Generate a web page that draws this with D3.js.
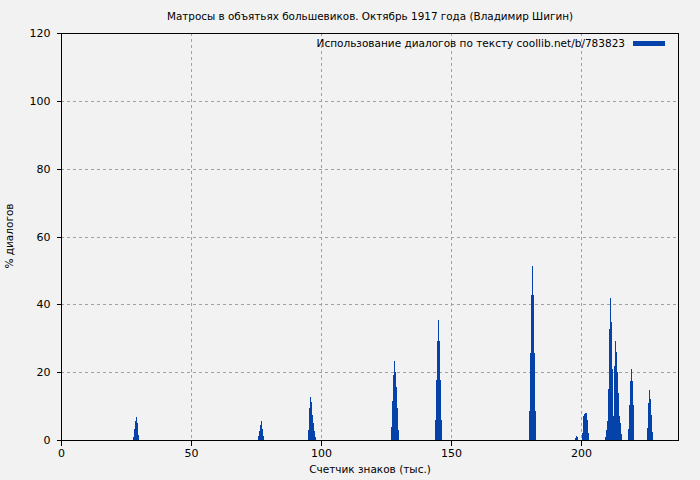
<!DOCTYPE html>
<html><head><meta charset="utf-8">
<script src="https://cdn.jsdelivr.net/npm/d3@7"></script>
<style>
html,body{margin:0;padding:0;background:#f2f2f2;}
svg{display:block;font-family:"DejaVu Sans",sans-serif;}
</style></head>
<body>
<svg id="c" width="700" height="480"></svg>
<script>
const title = "Матросы в объятьях большевиков. Октябрь 1917 года (Владимир Шигин)";
const legendLabel = "Использование диалогов по тексту coollib.net/b/783823";
const xLabel = "Счетчик знаков (тыс.)";
const yLabel = "% диалогов";
const xTicks = [0, 50, 100, 150, 200];
const yTicks = [0, 20, 40, 60, 80, 100, 120];
const barStep = 0.385;
// position (thousands of chars) of each bar
const positions = [
  27.69, 28.08, 28.46, 28.85, 29.23, 29.62,
  75.77, 76.15, 76.54, 76.92, 77.31, 77.69,
  95.00, 95.38, 95.77, 96.15, 96.54, 96.92, 97.31, 97.69,
  126.92, 127.31, 127.69, 128.08, 128.46, 128.85, 129.23, 129.62,
  143.85, 144.23, 144.62, 145.00, 145.38, 145.77, 146.15,
  180.00, 180.38, 180.77, 181.15, 181.54, 181.92, 182.31,
  197.69, 198.08, 198.46,
  200.38, 200.77, 201.15, 201.54, 201.92, 202.31, 202.69,
  209.23, 209.62, 210.00, 210.38, 210.77, 211.15, 211.54, 211.92, 212.31, 212.69, 213.08, 213.46, 213.85, 214.23, 214.62, 215.00, 215.38,
  218.08, 218.46, 218.85, 219.23, 219.62, 220.00,
  225.38, 225.77, 226.15, 226.54, 226.92, 227.31
];
// % of dialogue at each position
const dialogShare = [
  0.8, 3.2, 5.6, 6.8, 5.0, 1.5,
  1.2, 2.7, 4.4, 5.6, 3.2, 1.2,
  3.0, 9.4, 12.7, 11.2, 7.4, 5.0, 2.7, 0.9,
  3.8, 11.5, 19.2, 23.3, 20.0, 15.6, 9.4, 2.9,
  5.9, 17.7, 29.2, 35.4, 29.2, 17.7, 5.9,
  8.6, 25.7, 42.8, 51.3, 42.8, 25.7, 8.6,
  0.6, 1.2, 0.8,
  2.0, 7.0, 7.7, 7.9, 7.9, 6.0, 2.0,
  0.9, 2.9, 5.6, 15.0, 32.7, 41.9, 34.8, 20.9, 7.0, 21.8, 29.2, 26.0, 20.0, 13.9, 7.0, 5.0, 1.8,
  3.2, 10.3, 17.5, 21.0, 17.5, 10.3,
  3.5, 10.9, 14.7, 12.1, 7.4, 2.4
];

const svg = d3.select("#c");
const m = {l:61, r:679, t:33, b:440};
const x = d3.scaleLinear().domain([0, 237.7]).range([m.l, m.r]);
const y = d3.scaleLinear().domain([0, 120]).range([m.b, m.t]);

svg.append("rect").attr("width",700).attr("height",480).attr("fill","#f2f2f2");

// grid
const grid = svg.append("g").attr("stroke","#a0a0a0").attr("stroke-dasharray","3,3").attr("shape-rendering","crispEdges");
grid.selectAll(".gx").data(xTicks.filter(d=>d>0)).join("line")
  .attr("x1",d=>Math.round(x(d))+0.5).attr("x2",d=>Math.round(x(d))+0.5)
  .attr("y1",m.t).attr("y2",m.b);
grid.selectAll(".gy").data(yTicks.filter(d=>d>0 && d<120)).join("line")
  .attr("y1",d=>Math.round(y(d))+0.5).attr("y2",d=>Math.round(y(d))+0.5)
  .attr("x1",m.l).attr("x2",m.r);

// bars
const bw = x(barStep) - x(0);
svg.append("g").attr("fill","#0543aa").attr("shape-rendering","crispEdges")
  .selectAll("rect").data(positions.map((p,i)=>({p, v:dialogShare[i]}))).join("rect")
  .attr("x",d=>x(d.p)).attr("width",Math.max(1,bw))
  .attr("y",d=>y(d.v)).attr("height",d=>y(0)-y(d.v));

// frame
svg.append("rect").attr("x",m.l+0.5).attr("y",m.t+0.5).attr("width",m.r-m.l-1).attr("height",m.b-m.t)
  .attr("fill","none").attr("stroke","#000").attr("shape-rendering","crispEdges");

// axes
const xa = svg.append("g").attr("transform",`translate(0,${m.b+0.5})`)
  .call(d3.axisBottom(x).tickValues(xTicks).tickSize(5).tickPadding(4).tickFormat(d3.format("d")));
const ya = svg.append("g").attr("transform",`translate(${m.l+0.5},0)`)
  .call(d3.axisLeft(y).tickValues(yTicks).tickSize(5).tickPadding(6).tickFormat(d3.format("d")));
[xa,ya].forEach(a=>{
  a.select(".domain").remove();
  a.selectAll("line").attr("stroke","#000").attr("shape-rendering","crispEdges");
  a.selectAll("text").attr("fill","#000").attr("font-size","11px").attr("font-family","DejaVu Sans, sans-serif");
});

// titles
svg.append("text").attr("x",370).attr("y",20).attr("text-anchor","middle")
  .attr("font-size","10.4px").text(title);
svg.append("text").attr("x",370).attr("y",473).attr("text-anchor","middle")
  .attr("font-size","10.5px").text(xLabel);
svg.append("text").attr("transform","translate(13,236) rotate(-90)").attr("text-anchor","middle")
  .attr("font-size","10.5px").text(yLabel);

// legend
svg.append("text").attr("x",625).attr("y",47).attr("text-anchor","end")
  .attr("font-size","10.5px").text(legendLabel);
svg.append("rect").attr("x",633).attr("y",41).attr("width",32).attr("height",5).attr("fill","#0543aa");
</script>
</body></html>
